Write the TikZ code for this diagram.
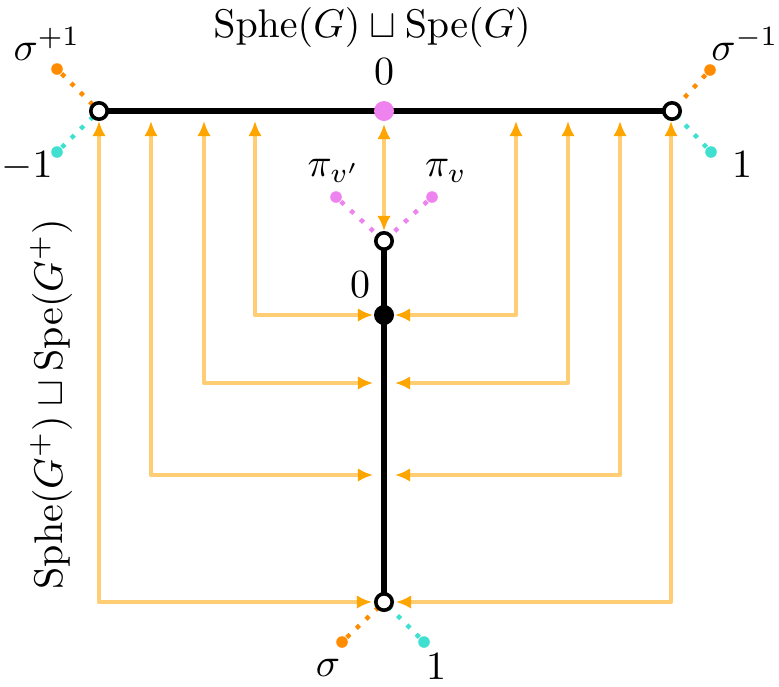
\documentclass[tikz,border=0pt]{standalone}
\usetikzlibrary{arrows.meta}
\definecolor{tipor}{HTML}{FFA500}
\colorlet{lineor}{tipor!55}
\definecolor{dorange}{HTML}{FF8C00}
\definecolor{turq}{HTML}{40E0D0}
\definecolor{viol}{HTML}{EE82EE}
\begin{document}
\begin{tikzpicture}[x=0.25pt,y=-0.25pt,
  opendot/.style={circle,draw=black,fill=white,line width=0.9pt,inner sep=0pt,minimum size=4.1pt},
  fulldot/.style={circle,fill=#1,inner sep=0pt,minimum size=5pt},
  smalldot/.style={circle,fill=#1,inner sep=0pt,minimum size=2.9pt},
  dotline/.style={draw=#1,line width=1.1pt,dash pattern=on 1.1pt off 2.2pt},
  axis/.style={draw=black,line width=1.6pt},
  arr/.style={draw=lineor,line width=1.1pt,line join=round,
    {Latex[color=tipor,length=3.8pt,width=3.4pt]}-{Latex[color=tipor,length=3.8pt,width=3.4pt]}},
  lbl/.style={anchor=base,inner sep=0pt}]
\useasboundingbox (0,0) rectangle (779,686);

% coordinates of the main points
\coordinate (pA) at (99,111);
\coordinate (pB) at (672,111);
\coordinate (pP) at (384,111);
\coordinate (pC) at (384,241);
\coordinate (pD) at (384,315);
\coordinate (pE) at (384,602);

% dotted legs
\node[smalldot=dorange] (oA) at (57,69) {};
\node[smalldot=turq] (tA) at (57,152) {};
\node[smalldot=dorange] (oB) at (710,70) {};
\node[smalldot=turq] (tB) at (711,152) {};
\node[smalldot=viol] (vL) at (336,197) {};
\node[smalldot=viol] (vR) at (432,197) {};
\node[smalldot=dorange] (oE) at (342,642) {};
\node[smalldot=turq] (tE) at (424,642) {};
\draw[dotline=dorange] (oA) -- (pA);
\draw[dotline=turq] (tA) -- (pA);
\draw[dotline=dorange] (oB) -- (pB);
\draw[dotline=turq] (tB) -- (pB);
\draw[dotline=viol] (vL) -- (pC);
\draw[dotline=viol] (vR) -- (pC);
\draw[dotline=dorange] (oE) -- (pE);
\draw[dotline=turq] (tE) -- (pE);

% axes
\draw[axis] (pA) -- (pB);
\draw[axis] (pC) -- (pE);

% main nodes
\node[opendot] (A) at (pA) {};
\node[opendot] (B) at (pB) {};
\node[fulldot=viol] (P) at (pP) {};
\node[opendot] (C) at (pC) {};
\node[fulldot=black] (D) at (pD) {};
\node[opendot] (E) at (pE) {};

% arrow end points
\coordinate (u1) at (99,121);
\coordinate (u2) at (151,121);
\coordinate (u3) at (204,121);
\coordinate (u4) at (255,121);
\coordinate (u5) at (516,121);
\coordinate (u6) at (568,121);
\coordinate (u7) at (620,121);
\coordinate (u8) at (671,121);
\coordinate (uc) at (384,124);
\coordinate (dc) at (384,231);
\coordinate (l1) at (372,602);
\coordinate (l2) at (373,475);
\coordinate (l3) at (373,383);
\coordinate (l4) at (373,315);
\coordinate (r1) at (396,602);
\coordinate (r2) at (395,475);
\coordinate (r3) at (395,383);
\coordinate (r4) at (395,315);

\draw[arr] (u1) |- (l1);
\draw[arr] (u2) |- (l2);
\draw[arr] (u3) |- (l3);
\draw[arr] (u4) |- (l4);
\draw[arr] (u8) |- (r1);
\draw[arr] (u7) |- (r2);
\draw[arr] (u6) |- (r3);
\draw[arr] (u5) |- (r4);
\draw[arr] (uc) -- (dc);

% labels
\node[lbl] (t0) at (372,37) {$\mathrm{Sphe}(G)\sqcup\mathrm{Spe}(G)$};
\node[lbl,rotate=90] (tv) at (62,404) {$\mathrm{Sphe}(G^{+})\sqcup\mathrm{Spe}(G^{+})$};
\node[lbl] (z0) at (384,84) {$0$};
\node[lbl] (z1) at (360,297) {$0$};
\node[lbl] (s1) at (47,60) {$\sigma^{+1}$};
\node[lbl] (m1) at (27,177) {$-1$};
\node[lbl] (s2) at (745,60) {$\sigma^{-1}$};
\node[lbl] (p1) at (742,177) {$1$};
\node[lbl] (pv1) at (334,176) {$\pi_{v'}$};
\node[lbl] (pv2) at (446,176) {$\pi_{v}$};
\node[lbl] (s3) at (328,676) {$\sigma$};
\node[lbl] (p2) at (436,679) {$1$};
\end{tikzpicture}
\end{document}
